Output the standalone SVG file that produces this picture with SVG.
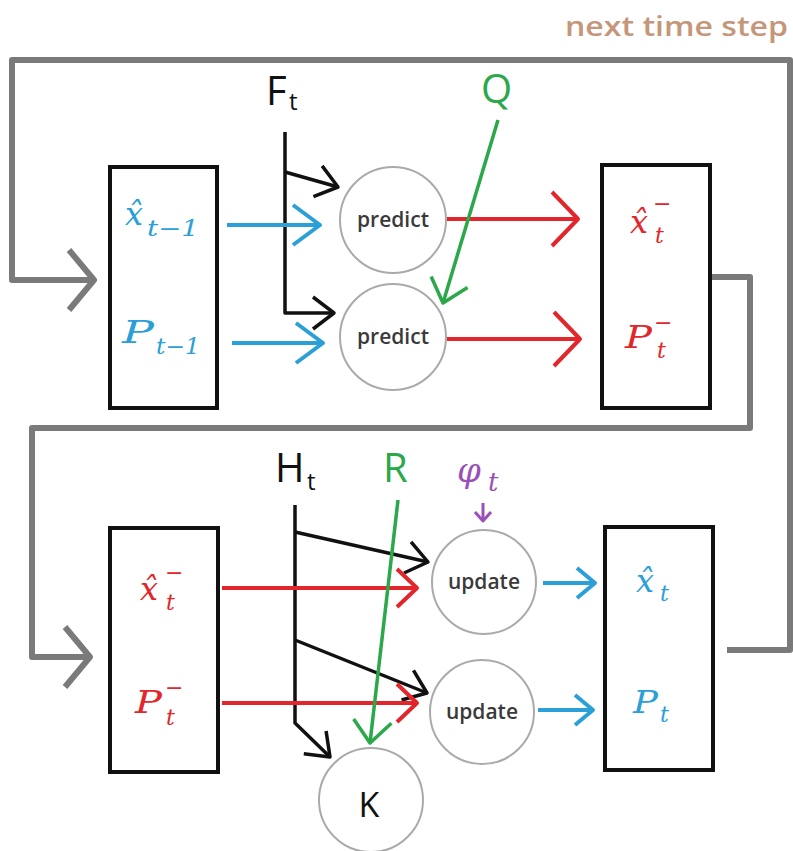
<svg xmlns="http://www.w3.org/2000/svg" width="793" height="851" viewBox="0 0 793 851">
<style>
.box{fill:none;stroke:#111;stroke-width:4}
.circ{fill:#fff;stroke:#aaa;stroke-width:2}
.ln{fill:none;stroke-linejoin:round}
.gray{stroke:#7a7a7a;stroke-width:6}
.blk{stroke:#111;stroke-width:3.5}
.blue{stroke:#2a9fd8;stroke-width:4}
.red{stroke:#e3262b;stroke-width:4}
.green{stroke:#2aa84a;stroke-width:3.5}
.purple{stroke:#9b4fb8;stroke-width:3}
.sans{font-family:"Open Sans","Noto Sans","Liberation Sans",sans-serif}
.math{font-family:"DejaVu Serif","Liberation Serif",serif;font-style:italic}
.lbl{font-size:40px}
.sub{font-size:24px}
.node{font-size:21px;fill:#3a3a3a;font-weight:600;text-anchor:middle}
.mb{fill:#2a9fd8}.mr{fill:#e3262b}
.mv{font-size:32px}.ms{font-size:22px}
</style>
<defs>
<marker id="aGray" markerUnits="userSpaceOnUse" viewBox="-32 -34 38 68" markerWidth="38" markerHeight="68" refX="0" refY="0" orient="auto" overflow="visible"><path d="M-25,-30 L0,0 L-25,30" fill="none" stroke="#7a7a7a" stroke-width="6" stroke-linejoin="round"/></marker>
<marker id="aBlueL" markerUnits="userSpaceOnUse" viewBox="-32 -34 38 68" markerWidth="38" markerHeight="68" refX="0" refY="0" orient="auto" overflow="visible"><path d="M-27,-20 L0,0 L-27,20" fill="none" stroke="#2a9fd8" stroke-width="4" stroke-linejoin="round"/></marker>
<marker id="aBlueS" markerUnits="userSpaceOnUse" viewBox="-32 -34 38 68" markerWidth="38" markerHeight="68" refX="0" refY="0" orient="auto" overflow="visible"><path d="M-18,-15 L0,0 L-18,15" fill="none" stroke="#2a9fd8" stroke-width="4" stroke-linejoin="round"/></marker>
<marker id="aRedL" markerUnits="userSpaceOnUse" viewBox="-32 -34 38 68" markerWidth="38" markerHeight="68" refX="0" refY="0" orient="auto" overflow="visible"><path d="M-26,-27 L0,0 L-26,27" fill="none" stroke="#e3262b" stroke-width="4" stroke-linejoin="round"/></marker>
<marker id="aRedS" markerUnits="userSpaceOnUse" viewBox="-32 -34 38 68" markerWidth="38" markerHeight="68" refX="0" refY="0" orient="auto" overflow="visible"><path d="M-20,-19 L0,0 L-20,19" fill="none" stroke="#e3262b" stroke-width="4" stroke-linejoin="round"/></marker>
<marker id="aBlk" markerUnits="userSpaceOnUse" viewBox="-32 -34 38 68" markerWidth="38" markerHeight="68" refX="0" refY="0" orient="auto" overflow="visible"><path d="M-21,-16 L0,0 L-21,16" fill="none" stroke="#111" stroke-width="3.5" stroke-linejoin="round"/></marker>
<marker id="aGreen" markerUnits="userSpaceOnUse" viewBox="-32 -34 38 68" markerWidth="38" markerHeight="68" refX="0" refY="0" orient="auto" overflow="visible"><path d="M-22,-19 L0,0 L-22,19" fill="none" stroke="#2aa84a" stroke-width="3.5" stroke-linejoin="round"/></marker>
<marker id="aPurple" markerUnits="userSpaceOnUse" viewBox="-32 -34 38 68" markerWidth="38" markerHeight="68" refX="0" refY="0" orient="auto" overflow="visible"><path d="M-9,-8 L0,0 L-9,8" fill="none" stroke="#9b4fb8" stroke-width="3" stroke-linejoin="round"/></marker>
</defs>
<rect width="793" height="851" fill="#fff"/>
<text class="sans" x="565" y="36" font-size="27" font-weight="600" fill="#c4967a" textLength="223" lengthAdjust="spacingAndGlyphs">next time step</text>

<g id="connectors">
<path class="ln gray" d="M727,650 H790 V60 H12 V280 H94" marker-end="url(#aGray)"/>
<path class="ln gray" d="M710,277 H750 V428 H32 V657 H90" marker-end="url(#aGray)"/>
<path class="ln blk" d="M285,132 V313 H334" marker-end="url(#aBlk)"/>
<path class="ln blk" d="M285,172 L338,187" marker-end="url(#aBlk)"/>
<path class="ln blk" d="M295,505 V723 L330,757" marker-end="url(#aBlk)"/>
<path class="ln blk" d="M295,532 L428,562" marker-end="url(#aBlk)"/>
<path class="ln blk" d="M295,640 L427,693" marker-end="url(#aBlk)"/>
<path class="ln blue" d="M227,225 H320" marker-end="url(#aBlueL)"/>
<path class="ln blue" d="M232,343 H323" marker-end="url(#aBlueL)"/>
<path class="ln blue" d="M543,583 H595" marker-end="url(#aBlueS)"/>
<path class="ln blue" d="M538,710 H593" marker-end="url(#aBlueS)"/>
<path class="ln red" d="M447,219 H578" marker-end="url(#aRedL)"/>
<path class="ln red" d="M447,339 H580" marker-end="url(#aRedL)"/>
<path class="ln red" d="M222,588 H417" marker-end="url(#aRedS)"/>
<path class="ln red" d="M222,703 H417" marker-end="url(#aRedS)"/>
<path class="ln green" d="M498,120 L443,303" marker-end="url(#aGreen)"/>
<path class="ln green" d="M398,500 L370,743" marker-end="url(#aGreen)"/>
<path class="ln purple" d="M483,503 V521" marker-end="url(#aPurple)"/>
</g>

<g id="F">
<text class="sans lbl" x="266" y="105" fill="#111">F</text>
<text class="sans sub" x="289" y="110" fill="#111">t</text>
</g>
<g id="Q"><text class="sans lbl" x="481" y="103" fill="#2aa84a">Q</text></g>
<g id="H">
<text class="sans lbl" x="275" y="482" fill="#111">H</text>
<text class="sans sub" x="307" y="490" fill="#111">t</text>
</g>
<g id="R"><text class="sans lbl" x="383" y="482" fill="#2aa84a">R</text></g>
<g id="phi">
<text class="math" x="457" y="482" font-size="34" fill="#9b4fb8">φ</text>
<text class="math" x="488" y="491" font-size="26" fill="#9b4fb8">t</text>
</g>

<g id="box-prev">
<rect class="box" x="110" y="167" width="107" height="241"/>
<text class="math mv mb" x="125" y="225">x̂</text>
<text class="math ms mb" x="147" y="236" textLength="52" lengthAdjust="spacingAndGlyphs">t−1</text>
<text class="math mv mb" x="122" y="343" textLength="32" lengthAdjust="spacingAndGlyphs">P</text>
<text class="math ms mb" x="156" y="354" textLength="44" lengthAdjust="spacingAndGlyphs">t−1</text>
</g>

<g id="predict1"><circle class="circ" cx="393" cy="220" r="53"/><text class="sans node" x="393" y="227">predict</text></g>
<g id="predict2"><circle class="circ" cx="393" cy="337" r="53"/><text class="sans node" x="393" y="344">predict</text></g>

<g id="box-prior">
<rect class="box" x="602" y="165" width="108" height="243"/>
<text class="math mv mr" x="630" y="233">x̂</text>
<text class="math ms mr" x="653" y="211">−</text>
<text class="math ms mr" x="655" y="243">t</text>
<text class="math mv mr" x="625" y="348" textLength="27" lengthAdjust="spacingAndGlyphs">P</text>
<text class="math ms mr" x="654" y="330">−</text>
<text class="math ms mr" x="657" y="358">t</text>
</g>

<g id="box-prior2">
<rect class="box" x="110" y="528" width="108" height="244"/>
<text class="math mv mr" x="140" y="600">x̂</text>
<text class="math ms mr" x="165" y="580">−</text>
<text class="math ms mr" x="166" y="610">t</text>
<text class="math mv mr" x="135" y="713" textLength="27" lengthAdjust="spacingAndGlyphs">P</text>
<text class="math ms mr" x="165" y="695">−</text>
<text class="math ms mr" x="166" y="725">t</text>
</g>

<g id="update1"><circle class="circ" cx="484" cy="582" r="52"/><text class="sans node" x="484" y="589">update</text></g>
<g id="update2"><circle class="circ" cx="482" cy="712" r="52"/><text class="sans node" x="482" y="719">update</text></g>
<g id="K"><circle class="circ" cx="371" cy="800" r="52"/><text class="sans" x="369" y="817" font-size="34" fill="#111" text-anchor="middle">K</text></g>

<g id="box-post">
<rect class="box" x="605" y="527" width="108" height="243"/>
<text class="math mv mb" x="636" y="592">x̂</text>
<text class="math ms mb" x="660" y="601">t</text>
<text class="math mv mb" x="633" y="713" textLength="25" lengthAdjust="spacingAndGlyphs">P</text>
<text class="math ms mb" x="660" y="722">t</text>
</g>
</svg>
